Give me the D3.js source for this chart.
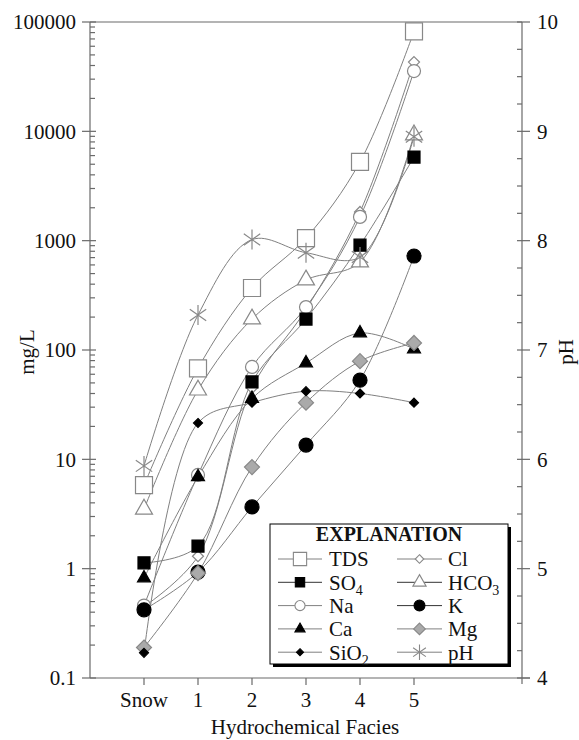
<!DOCTYPE html>
<html>
<head>
<meta charset="utf-8">
<style>
  body { margin: 0; background: #fff; }
  svg { display: block; }
  svg text { font-family: "Liberation Serif", "Times New Roman", Times, serif; }
</style>
</head>
<body>
<svg id="chart" width="579" height="740"></svg>
<script src="https://d3js.org/d3.v7.min.js"></script>
<script>
// facies along the x axis
const categories = ["Snow", "1", "2", "3", "4", "5"];

// concentrations, mg/L
const tds  = [5.8, 68, 369, 1057, 5250, 82000];
const so4  = [1.13, 1.61, 51, 192, 910, 5820];
const na   = [0.46, 7.2, 70, 247, 1650, 35600];
const ca   = [0.82, 6.9, 36, 76, 143, 102];
const sio2 = [0.17, 21.5, 33, 42, 40, 33];
const cl   = [0.45, 1.3, 45, 235, 1830, 43000];
const hco3 = [3.5, 43, 192, 437, 638, 9270];
const k    = [0.42, 0.93, 3.67, 13.5, 53, 724];
const mg   = [0.19, 0.91, 8.5, 33, 79, 116];
// pH, right axis
const ph   = [5.94, 7.32, 8.01, 7.89, 7.85, 8.95];

const leftTicks = [0.1, 1, 10, 100, 1000, 10000, 100000];
const rightTicks = [4, 5, 6, 7, 8, 9, 10];

const svg = d3.select("#chart");
const L = 90, R = 522, T = 22, B = 678;

const x = d3.scaleLinear().domain([-1, 7]).range([L, R]);
const y = d3.scaleLog().domain([0.1, 100000]).range([B, T]);
const yPH = d3.scaleLinear().domain([4, 10]).range([B, T]);

const axisColor = "#6a6a6a";
const lineColor = "#808080";

// marker shapes, s = width in px
function shape(type, s) {
  const h = s / 2;
  if (type === "square") return `M${-h},${-h}h${s}v${s}h${-s}Z`;
  if (type === "circle") return d3.symbol(d3.symbolCircle, Math.PI * h * h)();
  if (type === "triangle") {
    const th = s * 0.87;
    return `M0,${-th * 2 / 3}L${h},${th / 3}L${-h},${th / 3}Z`;
  }
  if (type === "diamond") return `M0,${-h}L${h},0L0,${h}L${-h},0Z`;
  if (type === "asterisk") {
    let p = "";
    [90, 35, 145].forEach(a => {
      const r = a * Math.PI / 180;
      const dx = Math.cos(r) * h, dy = Math.sin(r) * h;
      p += `M${-dx},${-dy}L${dx},${dy}`;
    });
    return p;
  }
}

const series = [
  { name: "TDS", values: tds, type: "square", size: 17, fill: "#fff", stroke: "#888", axis: y },
  { name: "SO", sub: "4", values: so4, type: "square", size: 12, fill: "#000", stroke: "#000", axis: y },
  { name: "Na", values: na, type: "circle", size: 13, fill: "#fff", stroke: "#888", axis: y },
  { name: "Ca", values: ca, type: "triangle", size: 13, fill: "#000", stroke: "#000", axis: y },
  { name: "SiO", sub: "2", values: sio2, type: "diamond", size: 9, fill: "#000", stroke: "#000", axis: y },
  { name: "Cl", values: cl, type: "diamond", size: 11, fill: "#fff", stroke: "#888", axis: y },
  { name: "HCO", sub: "3", values: hco3, type: "triangle", size: 17, fill: "#fff", stroke: "#888", axis: y },
  { name: "K", values: k, type: "circle", size: 14, fill: "#000", stroke: "#000", axis: y },
  { name: "Mg", values: mg, type: "diamond", size: 15, fill: "#aaa", stroke: "#888", axis: y },
  { name: "pH", values: ph, type: "asterisk", size: 20, fill: "none", stroke: "#888", axis: yPH }
];
// stacking order of the markers (bottom first)
const drawOrder = ["TDS", "HCO", "Cl", "Na", "SO", "Ca", "K", "Mg", "SiO", "pH"];

// frame: top border
svg.append("line").attr("x1", L).attr("x2", R).attr("y1", T).attr("y2", T)
  .attr("stroke", axisColor).attr("stroke-width", 1.2);

// left log axis
const gl = svg.append("g").attr("stroke", axisColor).attr("stroke-width", 1.2);
gl.append("line").attr("x1", L).attr("x2", L).attr("y1", T).attr("y2", B);
leftTicks.forEach((t, i) => {
  gl.append("line").attr("x1", L - 8).attr("x2", L + 6).attr("y1", y(t)).attr("y2", y(t));
  if (i < leftTicks.length - 1) {
    for (let m = 2; m <= 9; m++) {
      const v = t * m;
      gl.append("line").attr("x1", L).attr("x2", L + 5).attr("y1", y(v)).attr("y2", y(v));
    }
  }
});
svg.append("g").selectAll("text").data(leftTicks).join("text")
  .attr("x", L - 14).attr("y", d => y(d)).attr("dy", "0.35em")
  .attr("text-anchor", "end").attr("font-size", 21).attr("fill", "#111")
  .text(d => d3.format("")(d));

// right pH axis
const gr = svg.append("g").attr("stroke", axisColor).attr("stroke-width", 1.2);
gr.append("line").attr("x1", R).attr("x2", R).attr("y1", T).attr("y2", B + 6);
d3.range(4, 10.01, 0.25).forEach(v => {
  const major = Math.abs(v - Math.round(v)) < 1e-6;
  gr.append("line").attr("x1", R - 5).attr("x2", major ? R + 8 : R)
    .attr("y1", yPH(v)).attr("y2", yPH(v));
});
svg.append("g").selectAll("text").data(rightTicks).join("text")
  .attr("x", R + 15).attr("y", d => yPH(d)).attr("dy", "0.35em")
  .attr("font-size", 21).attr("fill", "#111")
  .text(d => d);

// bottom axis
const gb = svg.append("g").attr("stroke", axisColor).attr("stroke-width", 1.2);
gb.append("line").attr("x1", L).attr("x2", R + 8).attr("y1", B).attr("y2", B);
categories.forEach((c, i) => {
  gb.append("line").attr("x1", x(i)).attr("x2", x(i)).attr("y1", B).attr("y2", B + 7);
});
svg.append("g").selectAll("text").data(categories).join("text")
  .attr("x", (d, i) => x(i)).attr("y", 707)
  .attr("text-anchor", "middle").attr("font-size", 21).attr("fill", "#111")
  .text(d => d);

// axis titles
svg.append("text").attr("x", 305).attr("y", 734).attr("text-anchor", "middle")
  .attr("font-size", 21).attr("fill", "#111").text("Hydrochemical Facies");
svg.append("text").attr("transform", "translate(34,352) rotate(-90)")
  .attr("text-anchor", "middle").attr("font-size", 21).attr("fill", "#111").text("mg/L");
svg.append("text").attr("transform", "translate(573,352) rotate(-90)")
  .attr("text-anchor", "middle").attr("font-size", 21).attr("fill", "#111").text("pH");

// curves
const gLines = svg.append("g").attr("fill", "none").attr("stroke", lineColor).attr("stroke-width", 1);
series.forEach(s => {
  const line = d3.line()
    .x((d, i) => x(i))
    .y(d => s.axis(d))
    .curve(d3.curveCatmullRom.alpha(0.5));
  gLines.append("path").attr("d", line(s.values));
});

// markers
drawOrder.forEach(n => {
  const s = series.find(d => d.name === n);
  svg.append("g").selectAll("path").data(s.values).join("path")
    .attr("transform", (d, i) => `translate(${x(i)},${s.axis(d)})`)
    .attr("d", shape(s.type, s.size))
    .attr("fill", s.fill).attr("stroke", s.stroke).attr("stroke-width", 1.2);
});

// legend
const lg = svg.append("g");
const lx = 270, ly = 524, lw = 238, lh = 140;
lg.append("rect").attr("x", lx + 3).attr("y", ly + 3).attr("width", lw).attr("height", lh).attr("fill", "#000");
lg.append("rect").attr("x", lx).attr("y", ly).attr("width", lw).attr("height", lh)
  .attr("fill", "#fff").attr("stroke", "#000").attr("stroke-width", 1);
lg.append("text").attr("x", lx + lw / 2).attr("y", 541).attr("text-anchor", "middle")
  .attr("font-size", 20).attr("font-weight", "bold").attr("fill", "#111").text("EXPLANATION");

const cols = [{ x0: 278, x1: 322, label: 329 }, { x0: 397, x1: 442, label: 448 }];
series.forEach((s, i) => {
  const col = cols[Math.floor(i / 5)];
  const ry = 559 + (i % 5) * 23.3;
  const dark = s.name === "SO" || s.name === "HCO" || s.name === "K";
  lg.append("line").attr("x1", col.x0).attr("x2", col.x1).attr("y1", ry).attr("y2", ry)
    .attr("stroke", dark ? "#333" : lineColor).attr("stroke-width", 1);
  lg.append("path").attr("transform", `translate(${(col.x0 + col.x1) / 2},${ry})`)
    .attr("d", shape(s.type, s.size * 0.78))
    .attr("fill", s.fill).attr("stroke", s.stroke).attr("stroke-width", 1.1);
  const t = lg.append("text").attr("x", col.label).attr("y", ry).attr("dy", "0.35em")
    .attr("font-size", 21).attr("fill", "#111").text(s.name);
  if (s.sub) t.append("tspan").attr("font-size", 14).attr("dy", 5).text(s.sub);
});
</script>
</body>
</html>
